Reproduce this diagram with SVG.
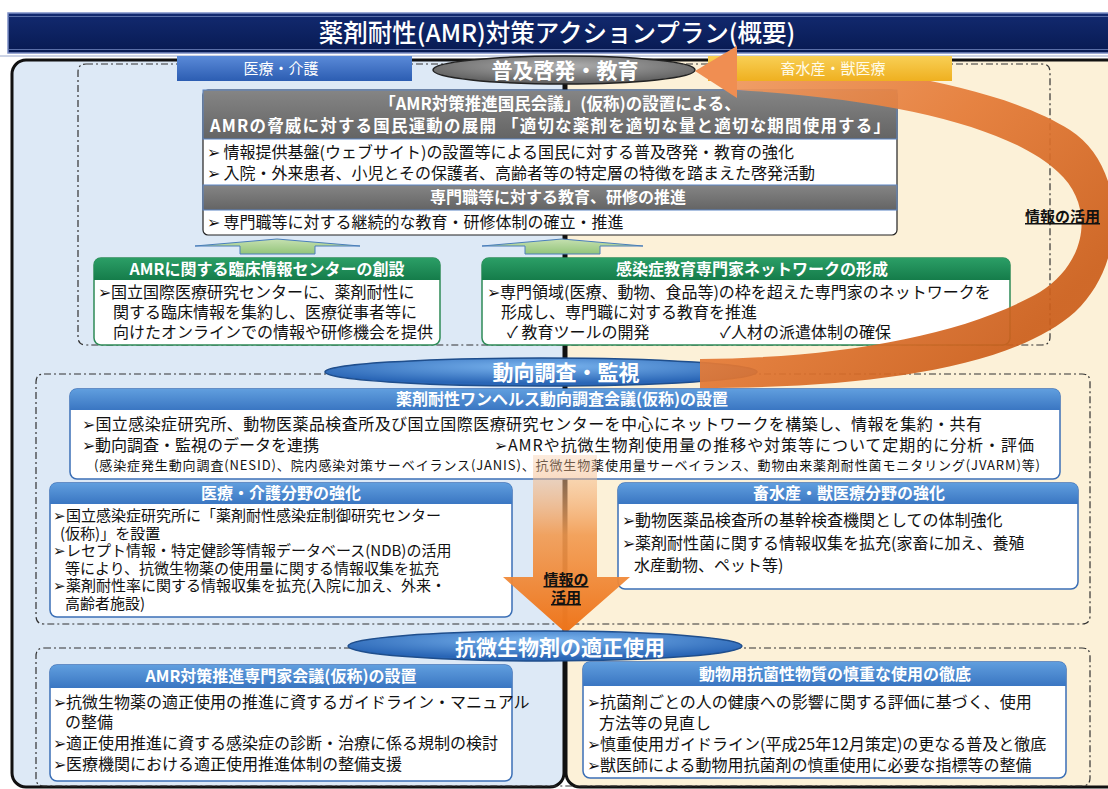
<svg xmlns="http://www.w3.org/2000/svg" width="1108" height="789" viewBox="0 0 1108 789">
<defs>
<linearGradient id="navy" x1="0" y1="0" x2="0" y2="1"><stop offset="0" stop-color="#132a70"/><stop offset="1" stop-color="#071a52"/></linearGradient>
<linearGradient id="tabB" x1="0" y1="0" x2="0" y2="1"><stop offset="0" stop-color="#5a8ad8"/><stop offset="1" stop-color="#2c5db2"/></linearGradient>
<linearGradient id="tabY" x1="0" y1="0" x2="0" y2="1"><stop offset="0" stop-color="#f8cf55"/><stop offset="1" stop-color="#efb020"/></linearGradient>
<radialGradient id="ellG" cx="0.5" cy="0.35" r="0.6"><stop offset="0" stop-color="#b0b0b0"/><stop offset="1" stop-color="#626262"/></radialGradient>
<radialGradient id="ellB" cx="0.5" cy="0.3" r="0.6"><stop offset="0" stop-color="#7ab4ee"/><stop offset="1" stop-color="#2a66b6"/></radialGradient>
<linearGradient id="hB" x1="0" y1="0" x2="0" y2="1"><stop offset="0" stop-color="#609ede"/><stop offset="1" stop-color="#3a76c2"/></linearGradient>
<linearGradient id="hG" x1="0" y1="0" x2="0" y2="1"><stop offset="0" stop-color="#2b9e66"/><stop offset="1" stop-color="#157c4a"/></linearGradient>
<linearGradient id="hK" x1="0" y1="0" x2="0" y2="1"><stop offset="0" stop-color="#858585"/><stop offset="1" stop-color="#646464"/></linearGradient>
<linearGradient id="orC" gradientUnits="userSpaceOnUse" x1="720" y1="70" x2="1000" y2="360"><stop offset="0" stop-color="#f09a62"/><stop offset="0.5" stop-color="#e47a36"/><stop offset="1" stop-color="#cc5f1c"/></linearGradient>
<linearGradient id="orD" x1="0" y1="0" x2="0" y2="1"><stop offset="0" stop-color="#f6c7a0" stop-opacity="0.35"/><stop offset="0.45" stop-color="#f29a50" stop-opacity="0.9"/><stop offset="1" stop-color="#ee741a"/></linearGradient>
<linearGradient id="arG" x1="0" y1="0" x2="0" y2="1"><stop offset="0" stop-color="#c5e0b0"/><stop offset="1" stop-color="#93c47a"/></linearGradient>
<style>
.f{font-family:"Noto Sans CJK JP","Noto Sans",sans-serif}
.bd{font-size:16px;fill:#111}
.bs{font-size:15px;fill:#111}
.sm{font-size:13px;fill:#111}
.hw{font-size:16px;fill:#fff;font-weight:bold}
.ell{font-size:21px;fill:#fff;font-weight:bold}
.dash{fill:none;stroke:#333;stroke-width:1.2;stroke-dasharray:7 3 2 3}
.bx{fill:#fff;stroke:#3b6fb6;stroke-width:1.5}
.gx{fill:#fff;stroke:#2e8b57;stroke-width:1.5}
.ul{font-size:15px;font-weight:bold;fill:#111;text-decoration:underline}
</style>
</defs>

<rect width="1108" height="789" fill="#fff"/>

<g id="title">
<rect x="8" y="13" width="1110" height="40" fill="url(#navy)" stroke="#7c8fc6" stroke-width="1.5"/>
<line x1="8" y1="16.5" x2="1108" y2="16.5" stroke="#5a6fa8" stroke-width="1"/>
<line x1="8" y1="49.5" x2="1108" y2="49.5" stroke="#5a6fa8" stroke-width="1"/>
<line x1="0" y1="56" x2="1108" y2="56" stroke="#9aa8cc" stroke-width="1"/>
<text class="f" x="557" y="42" text-anchor="middle" font-size="24.5" font-weight="500" fill="#fff">薬剤耐性(AMR)対策アクションプラン(概要)</text>
</g>

<g id="panels">
<rect x="12" y="60" width="552" height="727" rx="14" fill="#dde9f6" stroke="#111" stroke-width="3"/>
<rect x="566" y="60" width="560" height="727" rx="14" fill="#fcf1d8" stroke="#111" stroke-width="3"/>
</g>

<g id="sections">
<path class="dash" d="M86,64 H1042 Q1050,64 1050,72 V337 Q1050,345 1042,345 H86 Q78,345 78,337 V72 Q78,64 86,64 Z"/>
<path class="dash" d="M44,374 H1082 Q1090,374 1090,382 V616 Q1090,624 1082,624 H44 Q36,624 36,616 V382 Q36,374 44,374 Z"/>
<path class="dash" d="M44,648 H1082 Q1090,648 1090,656 V778 Q1090,786 1082,786 H44 Q36,786 36,778 V656 Q36,648 44,648 Z"/>
</g>

<g id="tab-iryo">
<rect x="177" y="56" width="235" height="25" fill="url(#tabB)"/>
<text class="f" x="281" y="74" text-anchor="middle" font-size="15" fill="#fff">医療・介護</text>
</g>

<g id="ell-fukyu">
<ellipse cx="564" cy="70" rx="131" ry="14" fill="url(#ellG)" stroke="#222" stroke-width="1.5"/>
<text class="f ell" x="565" y="78" text-anchor="middle">普及啓発・教育</text>
</g>

<g id="box-kokumin">
<rect x="203" y="90" width="694" height="145" rx="5" fill="#fff" stroke="#222" stroke-width="1.2"/>
<rect x="203" y="90" width="694" height="49" fill="url(#hK)" stroke="#5b84c4" stroke-width="1"/>
<text class="f" x="560" y="110" text-anchor="middle" font-size="16.5" font-weight="bold" fill="#fff">「AMR対策推進国民会議」(仮称)の設置による、</text>
<text class="f" x="210" y="132" font-size="16.5" font-weight="bold" fill="#fff" textLength="680">AMRの脅威に対する国民運動の展開 「適切な薬剤を適切な量と適切な期間使用する」</text>
<text class="f bd" x="207" y="158">➢ 情報提供基盤(ウェブサイト)の設置等による国民に対する普及啓発・教育の強化</text>
<text class="f bd" x="207" y="179">➢ 入院・外来患者、小児とその保護者、高齢者等の特定層の特徴を踏まえた啓発活動</text>
<rect x="203" y="185" width="694" height="25" fill="url(#hK)" stroke="#5b84c4" stroke-width="1"/>
<text class="f hw" x="558" y="203" text-anchor="middle">専門職等に対する教育、研修の推進</text>
<text class="f bd" x="207" y="228">➢ 専門職等に対する継続的な教育・研修体制の確立・推進</text>
</g>

<g id="arrows-up">
<path d="M277,239 L360,246 H315 V254 H240 V246 H195 Z" fill="url(#arG)" stroke="#4a7ebb" stroke-width="1"/>
<path d="M562,239 L643,246 H600 V254 H525 V246 H482 Z" fill="url(#arG)" stroke="#4a7ebb" stroke-width="1"/>
</g>

<g id="box-center">
<rect x="94" y="258" width="346" height="87" rx="7" class="gx"/>
<path d="M94,280 V265 Q94,258 101,258 H433 Q440,258 440,265 V280 Z" fill="url(#hG)"/>
<text class="f hw" x="267" y="275" text-anchor="middle" font-size="17">AMRに関する臨床情報センターの創設</text>
<text class="f bd" x="98" y="298">➢国立国際医療研究センターに、薬剤耐性に</text>
<text class="f bd" x="113" y="318">関する臨床情報を集約し、医療従事者等に</text>
<text class="f bd" x="113" y="338">向けたオンラインでの情報や研修機会を提供</text>
</g>

<g id="box-network">
<rect x="482" y="258" width="528" height="87" rx="7" class="gx"/>
<path d="M482,280 V265 Q482,258 489,258 H1003 Q1010,258 1010,265 V280 Z" fill="url(#hG)"/>
<text class="f hw" x="752" y="275" text-anchor="middle" font-size="17">感染症教育専門家ネットワークの形成</text>
<text class="f bd" x="487" y="298">➢専門領域(医療、動物、食品等)の枠を超えた専門家のネットワークを</text>
<text class="f bd" x="501" y="318">形成し、専門職に対する教育を推進</text>
<text class="f bd" x="507" y="338">✓ 教育ツールの開発</text>
<text class="f bd" x="720" y="338">✓人材の派遣体制の確保</text>
</g>

<g id="ell-doko">
<ellipse cx="541" cy="372" rx="216" ry="14" fill="url(#ellB)" stroke="#1f4e8c" stroke-width="1.5"/>
<text class="f ell" x="566" y="380" text-anchor="middle">動向調査・監視</text>
</g>

<g id="connectors">
<path d="M737,60 C850,62 1000,85 1070,130 C1125,165 1130,260 1075,312 C1010,370 860,388 700,388 L700,359 C840,358 965,335 1040,292 C1088,262 1095,205 1058,172 C1010,128 900,100 737,90 Z" fill="url(#orC)" opacity="0.93"/>
</g>

<g id="tab-chiku">
<rect x="708" y="56" width="244" height="25" fill="url(#tabY)"/>
<text class="f" x="833" y="74" text-anchor="middle" font-size="15" fill="#fffbe8">畜水産・獣医療</text>
</g>

<g id="arrowhead">
<polygon points="695,71 737,46 737,98" fill="#f08e52"/>
</g>

<g id="label-katsuyo1">
<text class="f ul" x="1025" y="222">情報の活用</text>
</g>

<g id="box-onehealth">
<rect x="70" y="389" width="990" height="90" rx="7" class="bx"/>
<path d="M70,410 V396 Q70,389 77,389 H1053 Q1060,389 1060,396 V410 Z" fill="url(#hB)"/>
<text class="f hw" x="562" y="405" text-anchor="middle">薬剤耐性ワンヘルス動向調査会議(仮称)の設置</text>
<text class="f bd" x="82" y="430" textLength="900">➢国立感染症研究所、動物医薬品検査所及び国立国際医療研究センターを中心にネットワークを構築し、情報を集約・共有</text>
<text class="f bd" x="82" y="451">➢動向調査・監視のデータを連携</text>
<text class="f bd" x="494" y="451" textLength="540">➢AMRや抗微生物剤使用量の推移や対策等について定期的に分析・評価</text>
<text class="f sm" x="94" y="470" textLength="946">(感染症発生動向調査(NESID)、院内感染対策サーベイランス(JANIS)、抗微生物薬使用量サーベイランス、動物由来薬剤耐性菌モニタリング(JVARM)等)</text>
</g>

<g id="box-iryo-kyoka">
<rect x="50" y="483" width="462" height="134" rx="7" class="bx"/>
<path d="M50,504 V490 Q50,483 57,483 H505 Q512,483 512,490 V504 Z" fill="url(#hB)"/>
<text class="f hw" x="281" y="499" text-anchor="middle">医療・介護分野の強化</text>
<text class="f bs" x="53" y="521">➢国立感染症研究所に「薬剤耐性感染症制御研究センター</text>
<text class="f bs" x="60" y="538.5">(仮称)」を設置</text>
<text class="f bs" x="53" y="556">➢レセプト情報・特定健診等情報データベース(NDB)の活用</text>
<text class="f bs" x="65" y="573.5">等により、抗微生物薬の使用量に関する情報収集を拡充</text>
<text class="f bs" x="53" y="591">➢薬剤耐性率に関する情報収集を拡充(入院に加え、外来・</text>
<text class="f bs" x="65" y="608.5">高齢者施設)</text>
</g>

<g id="box-chiku-kyoka">
<rect x="618" y="483" width="460" height="106" rx="7" class="bx"/>
<path d="M618,504 V490 Q618,483 625,483 H1071 Q1078,483 1078,490 V504 Z" fill="url(#hB)"/>
<text class="f hw" x="849" y="499" text-anchor="middle">畜水産・獣医療分野の強化</text>
<text class="f bd" x="622" y="526">➢動物医薬品検査所の基幹検査機関としての体制強化</text>
<text class="f bd" x="622" y="549">➢薬剤耐性菌に関する情報収集を拡充(家畜に加え、養殖</text>
<text class="f bd" x="634" y="571">水産動物、ペット等)</text>
</g>

<g id="arrow-down">
<path d="M533,455 H597 V577 H630 L566,633 L503,577 H533 Z" fill="url(#orD)"/>
<text class="f ul" x="566" y="585" text-anchor="middle" font-size="14">情報の</text>
<text class="f ul" x="566" y="603" text-anchor="middle" font-size="14">活用</text>
</g>

<g id="ell-tekisei">
<ellipse cx="545" cy="646" rx="197" ry="15" fill="url(#ellB)" stroke="#1f4e8c" stroke-width="1.5"/>
<text class="f ell" x="560" y="655" text-anchor="middle">抗微生物剤の適正使用</text>
</g>

<g id="box-senmonka">
<rect x="50" y="665" width="462" height="116" rx="7" class="bx"/>
<path d="M50,688 V672 Q50,665 57,665 H505 Q512,665 512,672 V688 Z" fill="url(#hB)"/>
<text class="f hw" x="281" y="682" text-anchor="middle">AMR対策推進専門家会議(仮称)の設置</text>
<text class="f bd" x="53" y="708">➢抗微生物薬の適正使用の推進に資するガイドライン・マニュアル</text>
<text class="f bd" x="65" y="728">の整備</text>
<text class="f bd" x="53" y="749">➢適正使用推進に資する感染症の診断・治療に係る規制の検討</text>
<text class="f bd" x="53" y="770">➢医療機関における適正使用推進体制の整備支援</text>
</g>

<g id="box-shincho">
<rect x="583" y="662" width="483" height="116" rx="7" class="bx"/>
<path d="M583,686 V669 Q583,662 590,662 H1059 Q1066,662 1066,669 V686 Z" fill="url(#hB)"/>
<text class="f hw" x="835" y="680" text-anchor="middle">動物用抗菌性物質の慎重な使用の徹底</text>
<text class="f bd" x="587" y="708">➢抗菌剤ごとの人の健康への影響に関する評価に基づく、使用</text>
<text class="f bd" x="599" y="729">方法等の見直し</text>
<text class="f bd" x="587" y="750">➢慎重使用ガイドライン(平成25年12月策定)の更なる普及と徹底</text>
<text class="f bd" x="587" y="771">➢獣医師による動物用抗菌剤の慎重使用に必要な指標等の整備</text>
</g>
</svg>
